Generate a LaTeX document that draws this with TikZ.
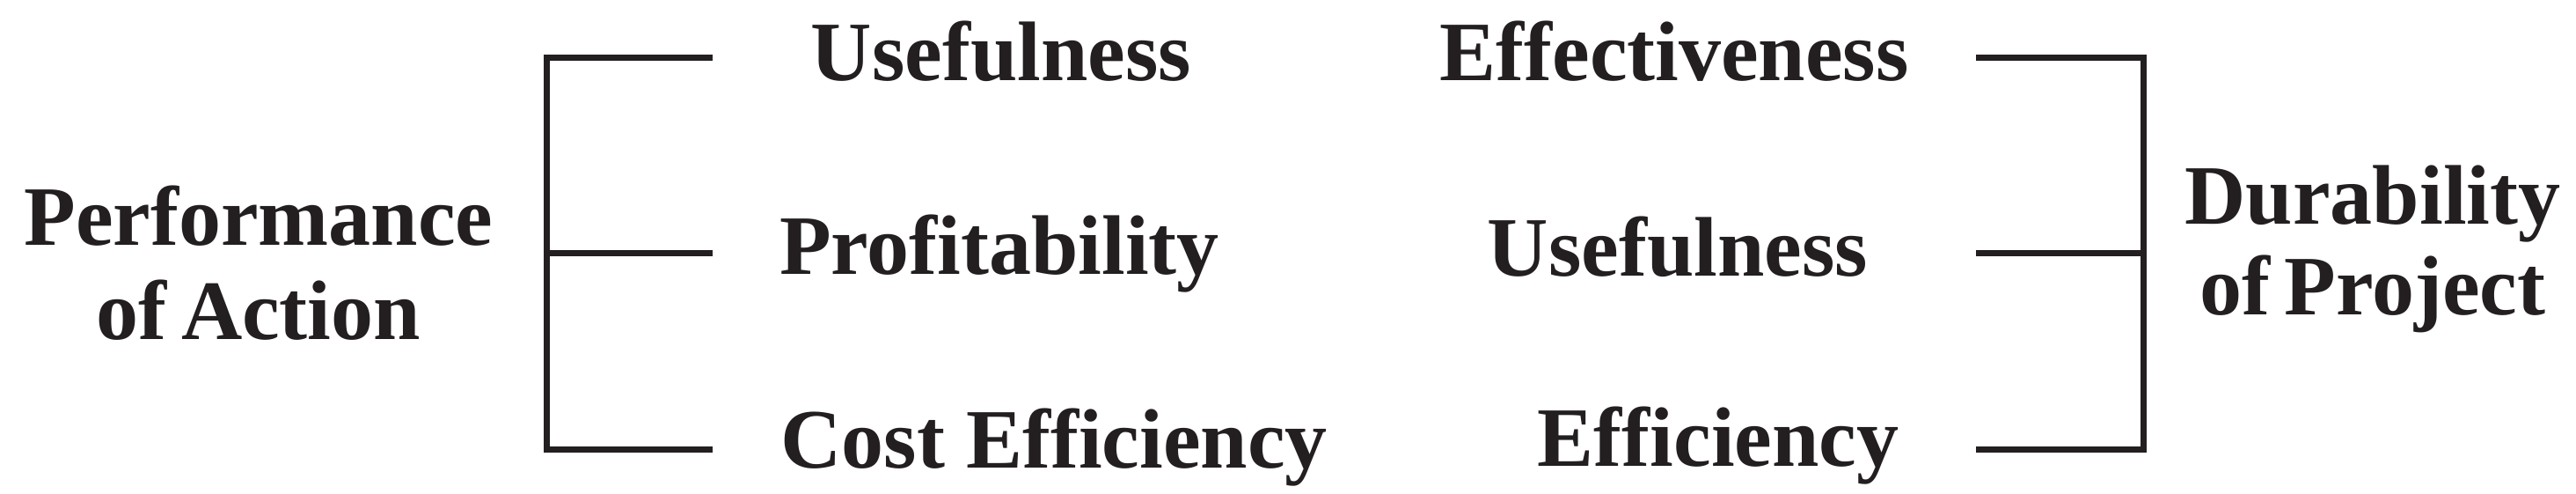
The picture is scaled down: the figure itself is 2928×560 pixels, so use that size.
\documentclass[tikz,border=0pt]{standalone}
\usepackage{fontspec}
\setmainfont{Liberation Serif}
\definecolor{ink}{HTML}{231F20}
\begin{document}
\begin{tikzpicture}[x=0.25pt,y=-0.25pt,
  lbl/.style={anchor=base,inner sep=0pt,text=ink,font=\fontsize{24}{26.5}\selectfont\bfseries},
  big/.style={lbl,text width=160pt,align=center},
  brk/.style={draw=ink,line width=1.75pt,line join=miter,line cap=butt}]
\useasboundingbox (0,0) rectangle (2928,560);
% left column
\node[big,font=\fontsize{24}{26.75}\selectfont\bfseries] (perf) at (294,278) {Performance\\of\hspace{0.17em}Action};
\node[lbl] (use1) at (1138,91) {Usefulness};
\node[lbl] (prof) at (1136,311) {Profitability};
\node[lbl] (cost) at (1198,531) {Cost Efficiency};
% right column
\node[lbl] (eff) at (1903,91) {Effectiveness};
\node[lbl] (use2) at (1907,313) {Usefulness};
\node[lbl] (effi) at (1953,529) {Efficiency};
\node[big,font=\fontsize{24}{25.75}\selectfont\bfseries] (dur) at (2697,254) {Durability\\of\hspace{0.17em}Project};
% bracket coordinates
\coordinate (la) at (810,65);
\coordinate (lb) at (810,287);
\coordinate (lc) at (810,510);
\coordinate (lva) at (621,65);
\coordinate (lvb) at (621,287);
\coordinate (lvc) at (621,510);
\coordinate (ra) at (2246,65);
\coordinate (rb) at (2246,287);
\coordinate (rc) at (2246,510);
\coordinate (rva) at (2436,65);
\coordinate (rvb) at (2436,287);
\coordinate (rvc) at (2436,510);
\draw[brk] (la) -- (lva) -- (lvc) -- (lc);
\draw[brk] (lvb) -- (lb);
\draw[brk] (ra) -- (rva) -- (rvc) -- (rc);
\draw[brk] (rvb) -- (rb);
\end{tikzpicture}
\end{document}
